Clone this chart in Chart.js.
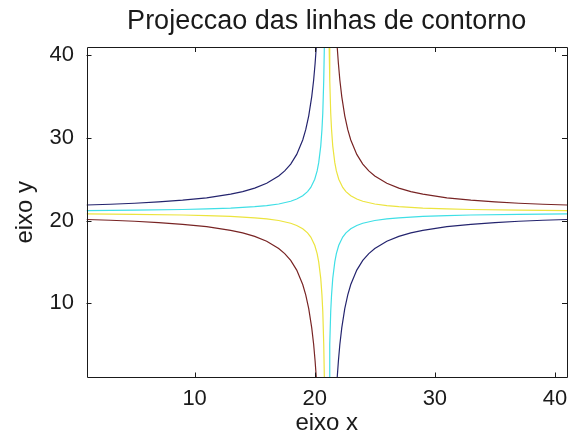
<!DOCTYPE html>
<html>
<head>
<meta charset="utf-8">
<script src="https://cdn.jsdelivr.net/npm/chart.js@4/dist/chart.umd.min.js"></script>
<style>
  html, body { margin: 0; padding: 0; background: #ffffff; }
  #wrap { width: 571px; height: 439px; }
</style>
</head>
<body>
<div id="wrap"><canvas id="c" width="571" height="439"></canvas></div>
<script>
// Axis ticks
const xTicks = [10, 20, 30, 40];
const yTicks = [10, 20, 30, 40];

// Contour lines, one branch per array, as [x, y] pairs.
// Lowest level (dark blue)
const navyUpperLeft = [[1,21.88],[3,21.97],[5,22.09],[7,22.25],[9,22.46],[11,22.75],[13,23.19],[14,23.5],[15,23.92],[16,24.5],[17,25.38],[17.5,26],[18,26.83],[18.5,28],[19,29.75],[19.25,31],[19.5,32.67],[19.75,35],[19.91,37],[20.03,39],[20.13,41]];
const navyLowerRight = [[21.87,1],[21.97,3],[22.09,5],[22.25,7],[22.5,9.33],[22.75,11],[23,12.25],[23.5,14],[24,15.17],[24.5,16],[25,16.62],[26,17.5],[27,18.08],[28,18.5],[29,18.81],[31,19.25],[33,19.54],[35,19.75],[37,19.91],[39,20.03],[41,20.12]];
// Second level (cyan)
const cyanUpperLeft = [[1,21.2],[5,21.25],[9,21.33],[11,21.4],[13,21.5],[15,21.67],[16,21.8],[17,22],[18,22.33],[18.5,22.6],[19,23],[19.4,23.5],[19.67,24],[20,25],[20.2,26],[20.33,27],[20.5,29],[20.6,31],[20.67,33],[20.75,37],[20.8,41]];
const cyanLowerRight = [[21.2,1],[21.25,5],[21.33,9],[21.4,11],[21.5,13],[21.67,15],[21.8,16],[22,17],[22.33,18],[22.6,18.5],[23,19],[23.5,19.4],[24,19.67],[25,20],[26,20.2],[27,20.33],[29,20.5],[31,20.6],[33,20.67],[37,20.75],[41,20.8]];
// Third level (yellow)
const yellowUpperRight = [[21.2,41],[21.25,37],[21.33,33],[21.4,31],[21.5,29],[21.67,27],[21.8,26],[22,25],[22.33,24],[22.6,23.5],[23,23],[23.5,22.6],[24,22.33],[25,22],[26,21.8],[27,21.67],[29,21.5],[31,21.4],[33,21.33],[37,21.25],[41,21.2]];
const yellowLowerLeft = [[1,20.8],[5,20.75],[9,20.67],[11,20.6],[13,20.5],[15,20.33],[16,20.2],[17,20],[18,19.67],[18.5,19.4],[19,19],[19.4,18.5],[19.67,18],[20,17],[20.2,16],[20.33,15],[20.5,13],[20.6,11],[20.67,9],[20.75,5],[20.8,1]];
// Highest level (dark red)
const maroonUpperRight = [[21.87,41],[21.97,39],[22.09,37],[22.25,35],[22.5,32.67],[22.75,31],[23,29.75],[23.5,28],[24,26.83],[24.5,26],[25,25.38],[26,24.5],[27,23.92],[28,23.5],[29,23.19],[31,22.75],[33,22.46],[35,22.25],[37,22.09],[39,21.97],[41,21.88]];
const maroonLowerLeft = [[1,20.12],[3,20.03],[5,19.91],[7,19.75],[9,19.54],[11,19.25],[13,18.81],[14,18.5],[15,18.08],[16,17.5],[17,16.62],[17.5,16],[18,15.17],[18.5,14],[19,12.25],[19.25,11],[19.5,9.33],[19.75,7],[19.91,5],[20.03,3],[20.13,1]];

const NAVY = '#24246e', CYAN = '#3fdfe6', YELLOW = '#ece43e', MAROON = '#782424';

const branches = [
  [navyUpperLeft, NAVY], [navyLowerRight, NAVY],
  [cyanUpperLeft, CYAN], [cyanLowerRight, CYAN],
  [yellowUpperRight, YELLOW], [yellowLowerLeft, YELLOW],
  [maroonUpperRight, MAROON], [maroonLowerLeft, MAROON]
];

const datasets = branches.map(([pts, color]) => ({
  data: pts.map(([x, y]) => ({ x, y })),
  borderColor: color,
  backgroundColor: color,
  borderWidth: 1.2,
  pointRadius: 0,
  showLine: true,
  fill: false,
  tension: 0
}));

const FONT = 'Liberation Sans, Arial, Helvetica, sans-serif';
const INK = '#1a1a1a';

// Centre the title over the plotting area rather than the whole canvas
const titleOverAxes = {
  id: 'titleOverAxes',
  afterLayout(chart) {
    const t = chart.titleBlock, a = chart.chartArea;
    if (t && a) { t.left = a.left; t.right = a.right; t.width = a.right - a.left; }
  }
};

// Box frame with inward tick marks on all four sides
const boxFrame = {
  id: 'boxFrame',
  afterDatasetsDraw(chart) {
    const { ctx, chartArea: a, scales } = chart;
    const len = 5;
    ctx.save();
    ctx.strokeStyle = INK;
    ctx.lineWidth = 1;
    ctx.beginPath();
    ctx.rect(Math.round(a.left) + 0.5, Math.round(a.top) + 0.5,
             Math.round(a.right - a.left) - 1, Math.round(a.bottom - a.top) - 1);
    xTicks.forEach(v => {
      const px = Math.round(scales.x.getPixelForValue(v)) + 0.5;
      ctx.moveTo(px, a.bottom); ctx.lineTo(px, a.bottom - len);
      ctx.moveTo(px, a.top); ctx.lineTo(px, a.top + len);
    });
    yTicks.forEach(v => {
      const py = Math.round(scales.y.getPixelForValue(v)) + 0.5;
      ctx.moveTo(a.left, py); ctx.lineTo(a.left + len, py);
      ctx.moveTo(a.right, py); ctx.lineTo(a.right - len, py);
    });
    ctx.stroke();
    ctx.restore();
  }
};

new Chart(document.getElementById('c'), {
  type: 'scatter',
  data: { datasets },
  plugins: [titleOverAxes, boxFrame],
  options: {
    responsive: false,
    animation: false,
    devicePixelRatio: 1,
    layout: { padding: { top: 0, left: 0, right: 4, bottom: 0 } },
    plugins: {
      legend: { display: false },
      tooltip: { enabled: false },
      title: {
        display: true,
        text: 'Projeccao das linhas de contorno',
        color: INK,
        font: { family: FONT, size: 27, weight: 'normal', lineHeight: 1.2 },
        padding: { top: 5.8, bottom: 8.8 }
      }
    },
    scales: {
      x: {
        type: 'linear',
        min: 1, max: 41,
        afterBuildTicks: s => { s.ticks = xTicks.map(v => ({ value: v })); },
        afterFit: s => { s.height = 61.5; s.paddingLeft = 0; s.paddingRight = 0; },
        grid: { display: false, drawTicks: false },
        border: { display: false },
        ticks: { color: INK, padding: 8, font: { family: FONT, size: 22 }, maxRotation: 0 },
        title: {
          display: true, text: 'eixo x', color: INK,
          font: { family: FONT, size: 24, lineHeight: 1 },
          padding: { top: 0, bottom: 4 }
        }
      },
      y: {
        type: 'linear',
        min: 1, max: 41,
        afterBuildTicks: s => { s.ticks = yTicks.map(v => ({ value: v })); },
        afterFit: s => { s.width = 86.5; s.paddingTop = 0; s.paddingBottom = 0; },
        grid: { display: false, drawTicks: false },
        border: { display: false },
        ticks: { color: INK, padding: 12.5, font: { family: FONT, size: 22 } },
        title: {
          display: true, text: 'eixo y', color: INK,
          font: { family: FONT, size: 24, lineHeight: 1 },
          padding: { top: 13, bottom: 0 }
        }
      }
    }
  }
});
</script>
</body>
</html>
